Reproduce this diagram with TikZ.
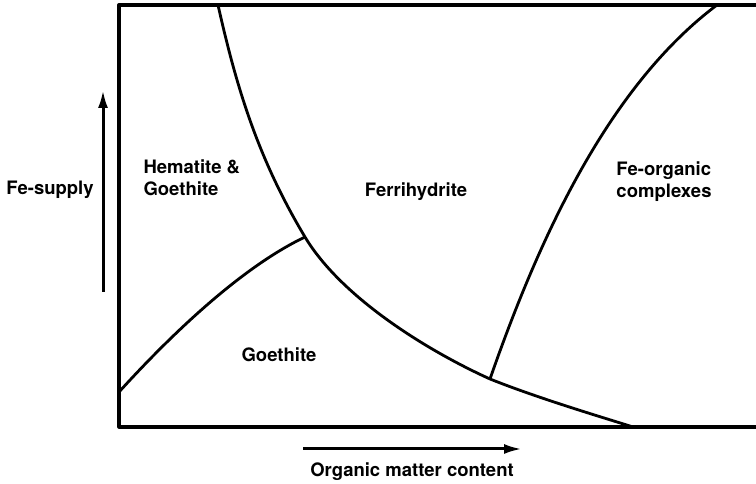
\documentclass[tikz,border=0pt]{standalone}
\usepackage{fontspec}
\setmainfont{TeX Gyre Heros}
\usetikzlibrary{arrows.meta}

\begin{document}
\begin{tikzpicture}[x=1bp, y=1bp,
                    frame/.style={line width=3.2bp},
                    boundary/.style={line width=2.8bp},
                    axis/.style={line width=3bp, -{Latex[length=18bp, width=10bp]}},
                    phase/.style={font=\fontsize{18.5bp}{22.5bp}\selectfont\bfseries},
                    line join=round]
  \useasboundingbox (0, 0) rectangle (756, 484);

  % Frame, open on the right.
  \coordinate (topright) at (756, 479);
  \coordinate (topleft) at (119, 479);
  \coordinate (bottomleft) at (119, 57);
  \coordinate (bottomright) at (756, 57);
  \draw [frame] (topright) -- (topleft) -- (bottomleft) -- (bottomright);

  % Ends of the boundaries, and points where three fields meet.
  \coordinate (ferritop) at (218, 479);
  \coordinate (ferribottom) at (633, 57);
  \coordinate (organictop) at (717, 479);
  \coordinate (goethitestart) at (119, 92);
  \coordinate (hematite) at (305, 247);
  \coordinate (organic) at (490, 105);

  % Field boundaries.
  \draw [boundary] (ferritop)
        .. controls (236, 399) and (257, 327) .. (hematite)
        .. controls (341, 187) and (426, 134) .. (organic)
        .. controls (540, 85) and (608, 65) .. (ferribottom);
  \draw [boundary] (goethitestart)
        .. controls (169, 147) and (240, 216) .. (hematite);
  \draw [boundary] (organic)
        .. controls (536, 237) and (605, 395) .. (organictop);

  % Fields.
  \node [phase, anchor=base west, align=left, name=HematiteGoethite] at (140, 288) {Hematite \&\\Goethite};
  \node [phase, anchor=base, name=Ferrihydrite] at (416, 287) {Ferrihydrite};
  \node [phase, anchor=base, align=left, name=FeOrganic] at (664, 286) {Fe-organic\\complexes};
  \node [phase, anchor=base, name=Goethite] at (279, 122) {Goethite};

  % Axes.
  \coordinate (supplytail) at (103, 192);
  \coordinate (supplyhead) at (103, 394);
  \coordinate (mattertail) at (303, 35);
  \coordinate (matterhead) at (522, 35);
  \draw [axis] (supplytail) -- (supplyhead);
  \draw [axis] (mattertail) -- (matterhead);
  \node [phase, anchor=base, name=FeSupply] at (50, 289) {Fe-supply};
  \node [phase, anchor=base, name=OrganicMatter] at (412, 7) {Organic matter content};
\end{tikzpicture}
\end{document}
